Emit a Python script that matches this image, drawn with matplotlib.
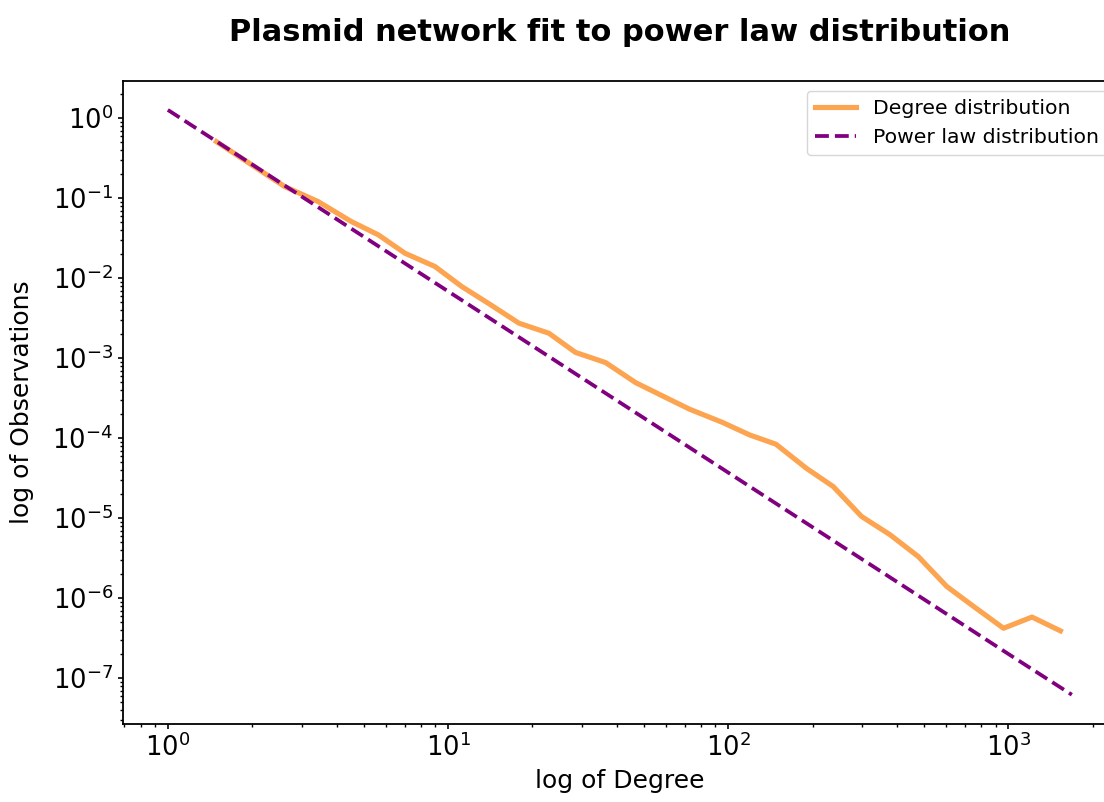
import matplotlib

matplotlib.use("Agg")

import matplotlib.pyplot as plt

# Degree distribution (log-binned pdf)
degree = [1.49, 2.61, 3.44, 4.52, 5.64, 7.02, 8.98, 11.2, 13.9, 17.9, 22.9,
          28.5, 36.5, 46.7, 58.2, 72.6, 95.5, 119, 148, 190, 237, 299, 378,
          477, 602, 750, 960, 1213, 1532]
observations = [0.510, 0.140, 0.0907, 0.0510, 0.0348, 0.0205, 0.0140,
                0.00785, 0.00487, 0.00274, 0.00205, 0.00118, 0.000881,
                0.000495, 0.000338, 0.000231, 0.000157, 0.000110, 8.4e-5,
                4.2e-5, 2.48e-5, 1.05e-5, 6.2e-6, 3.3e-6, 1.40e-6, 7.9e-7,
                4.2e-7, 5.8e-7, 3.9e-7]

# Fitted power law (straight line on log-log axes)
fit_degree = [1.0, 10.0, 100.0, 1000.0, 1683.0]
fit_pdf = [1.27, 6.86e-3, 3.71e-5, 2.0e-7, 6.2e-8]

fig = plt.figure(figsize=(11.04, 8.02), dpi=100)
ax = fig.add_axes([0.1111, 0.0973, 0.9007, 0.8021])

ax.plot(degree, observations, color="#fda451", linewidth=3.7,
        label="Degree distribution")
ax.plot(fit_degree, fit_pdf, color="purple", linestyle="--", linewidth=2.7,
        label="Power law distribution")
ax.set_xscale("log")
ax.set_yscale("log")

ax.set_xlabel("log of Degree", fontsize=18, labelpad=5)
ax.set_ylabel("log of Observations", fontsize=18, labelpad=13)
ax.tick_params(labelsize=18.5, width=1.2)
ax.tick_params(which="minor", width=1.0)
for spine in ax.spines.values():
    spine.set_linewidth(1.3)
ax.legend(loc="upper right", fontsize=14.7)

fig.suptitle("Plasmid network fit to power law distribution",
             fontsize=22, fontweight="bold", x=0.561, y=0.978)
fig.savefig("out.png", dpi=100)
